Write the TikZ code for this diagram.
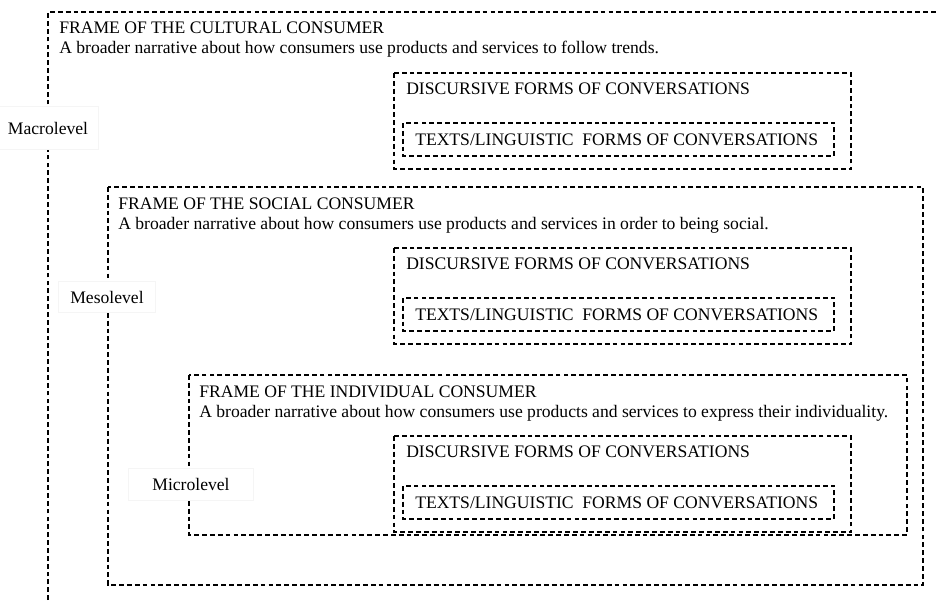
\documentclass[tikz,border=0pt]{standalone}
\usepackage{fontspec}
\setmainfont{Liberation Serif}
\usetikzlibrary{positioning}

\begin{document}
\begin{tikzpicture}[x=0.75pt, y=-0.75pt,
    frame/.style={line width=0.95pt, dash pattern=on 3.6pt off 2.3pt},
    txt/.style={anchor=west, inner sep=0pt, font=\fontsize{13.2}{15}\selectfont},
    lvl/.style={fill=white, draw=black!4, line width=0.4pt, inner sep=0pt,
                font=\fontsize{13.2}{15}\selectfont}]
    \useasboundingbox (0,0) rectangle (937,600);

    % the three frames
    \draw[frame] (48,600) -- (48,12) -- (940,12);
    \draw[frame] (108,187) rectangle (923,585);
    \draw[frame] (189,375) rectangle (907,535);

    \node[txt] (cultT) at (59,28) {FRAME OF THE CULTURAL CONSUMER};
    \node[txt] (cultS) at (59,49) {A broader narrative about how consumers use products and services to follow trends.};

    \node[txt] (socT) at (118,204) {FRAME OF THE SOCIAL CONSUMER};
    \node[txt] (socS) at (118,225) {A broader narrative about how consumers use products and services in order to being social.};

    \node[txt] (indT) at (199,392) {FRAME OF THE INDIVIDUAL CONSUMER};
    \node[txt] (indS) at (199,413) {A broader narrative about how consumers use products and services to express their individuality.};

    % forms of conversations, one pair per frame
    \foreach \t [count=\i] in {12,187,375} {
        \draw[frame] (394,\t+61) rectangle (851,\t+157);
        \draw[frame] (403,\t+111) rectangle (834,\t+144);
        \node[txt] (disc\i) at (406,\t+77) {DISCURSIVE FORMS OF CONVERSATIONS};
        \node[txt] (ling\i) at (415,\t+128) {TEXTS/LINGUISTIC\ \ FORMS OF CONVERSATIONS};
    }

    % level labels
    \node[lvl, minimum width=75pt, minimum height=32pt] (macro) at (48,128) {Macrolevel};
    \node[lvl, minimum width=73pt, minimum height=23pt] (meso) at (107,297) {Mesolevel};
    \node[lvl, minimum width=94pt, minimum height=24pt] (micro) at (191,484) {Microlevel};

\end{tikzpicture}
\end{document}
